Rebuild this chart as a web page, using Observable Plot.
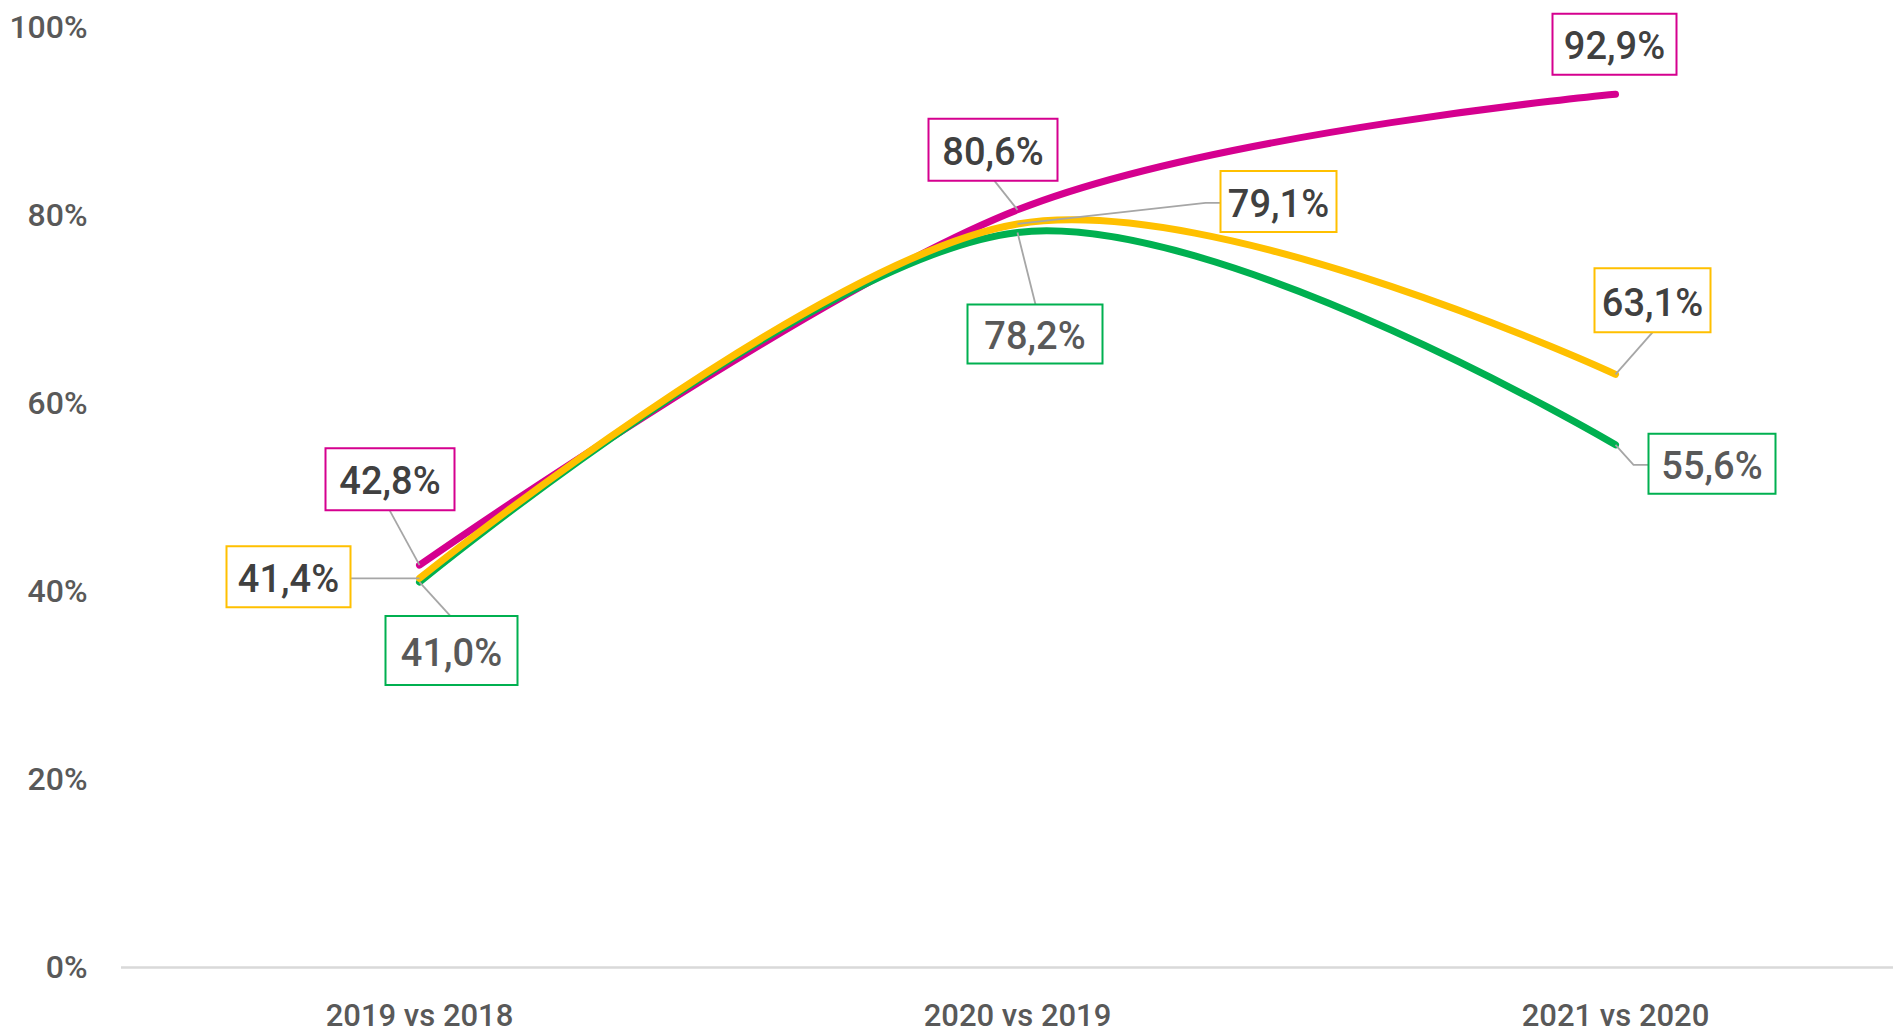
<!DOCTYPE html>
<html>
<head>
<meta charset="utf-8">
<script src="https://cdn.jsdelivr.net/npm/d3@7"></script>
<script src="https://cdn.jsdelivr.net/npm/@observablehq/plot@0.6"></script>
<style>
  html, body { margin: 0; padding: 0; background: #ffffff; }
  svg { display: block; }
</style>
</head>
<body>
<div id="chart"></div>
<script>
// ---------- data ----------
const categories = ["2019 vs 2018", "2020 vs 2019", "2021 vs 2020"];
const seriesMagenta = [42.8, 80.6, 92.9];
const seriesYellow  = [41.4, 79.1, 63.1];
const seriesGreen   = [41.0, 78.2, 55.6];
const yTicks = [0, 20, 40, 60, 80, 100];

// ---------- styles ----------
const colors = { magenta: "#D5008F", yellow: "#FFC000", green: "#00B050" };
const textColors = { magenta: "#404040", yellow: "#404040", green: "#595959" };
const FONT = "Roboto, 'DejaVu Sans Condensed', sans-serif";

// label boxes: [dx, dy, w, h] relative to data point (px), leader polyline points (px)
const labelLayout = {
  magenta: [
    { box: [-29.5, -86, 129, 62], leader: [[-30, -55]] },
    { box: [-24.5, -60, 129, 62], leader: [[-23, -29]] },
    { box: [-1, -50, 124, 61], leader: [] }
  ],
  yellow: [
    { box: [-131, -1.5, 124, 61], leader: [[-69, 0]] },
    { box: [261, -22.5, 116, 61], leader: [[188, -21], [203, -21]] },
    { box: [37, -74, 116, 64], leader: [[37, -42]] }
  ],
  green: [
    { box: [32, 68.5, 132, 69], leader: [[31, 34]] },
    { box: [17.5, 101.5, 135, 59], leader: [[18, 72]] },
    { box: [96.5, 19, 127, 60], leader: [[18, 20], [33, 20]] }
  ]
};

// ---------- build tables ----------
const seriesList = [
  { key: "magenta", values: seriesMagenta },
  { key: "green", values: seriesGreen },
  { key: "yellow", values: seriesYellow }
];
const rows = seriesList.flatMap(s => s.values.map((v, i) => ({ series: s.key, cat: categories[i], value: v, i })));

const fmt = v => v.toFixed(1).replace(".", ",") + "%";

const polylineSymbol = pts => ({
  draw(ctx) {
    ctx.moveTo(0, 0);
    for (const [px, py] of pts) ctx.lineTo(px, py);
  }
});
const rectSymbol = ([cx, cy, w, h]) => ({
  draw(ctx) {
    ctx.moveTo(cx - w / 2, cy - h / 2);
    ctx.lineTo(cx + w / 2, cy - h / 2);
    ctx.lineTo(cx + w / 2, cy + h / 2);
    ctx.lineTo(cx - w / 2, cy + h / 2);
    ctx.closePath();
  }
});

const lineMarks = seriesList.map(s =>
  Plot.line(rows.filter(d => d.series === s.key), {
    x: "cat", y: "value",
    stroke: colors[s.key], strokeWidth: 7,
    strokeLinecap: "round", strokeLinejoin: "round",
    curve: "cardinal"
  })
);

const leaderMarks = [], boxMarks = [], textMarks = [];
for (const d of rows) {
  const lay = labelLayout[d.series][d.i];
  if (lay.leader.length) {
    leaderMarks.push(Plot.dot([d], {
      x: "cat", y: "value", r: 5,
      symbol: polylineSymbol(lay.leader),
      fill: "none", stroke: "#A6A6A6", strokeWidth: 1.8
    }));
  }
  boxMarks.push(Plot.dot([d], {
    x: "cat", y: "value", r: 5,
    symbol: rectSymbol(lay.box),
    fill: "white", stroke: colors[d.series], strokeWidth: 2
  }));
  textMarks.push(Plot.text([d], {
    x: "cat", y: "value",
    text: dd => fmt(dd.value),
    dx: lay.box[0], dy: lay.box[1] + 3,
    textAnchor: "middle", lineAnchor: "middle",
    fontSize: 38, fontFamily: FONT, fontWeight: 500,
    fill: textColors[d.series]
  }));
}

const chart = Plot.plot({
  width: 1893,
  height: 1033,
  marginLeft: 121,
  marginRight: 0,
  marginTop: 27,
  marginBottom: 66,
  style: { fontFamily: FONT, background: "white", overflow: "visible" },
  x: { type: "point", domain: categories, range: [419, 1615], padding: 0, label: null },
  y: { domain: [0, 100], label: null },
  marks: [
    Plot.ruleY([0], { stroke: "#D9D9D9", strokeWidth: 2.5 }),
    Plot.axisY({ ticks: yTicks, tickFormat: d => d + "%", tickSize: 0, tickPadding: 34,
      fontSize: 32, fontFamily: FONT, fontWeight: 500, fill: "#595959", label: null }),
    Plot.axisX({ tickSize: 0, tickPadding: 36, fontSize: 31, fontFamily: FONT, fontWeight: 500,
      fill: "#595959", label: null }),
    ...lineMarks,
    ...leaderMarks,
    ...boxMarks,
    ...textMarks
  ]
});

document.getElementById("chart").appendChild(chart);
</script>
</body>
</html>
